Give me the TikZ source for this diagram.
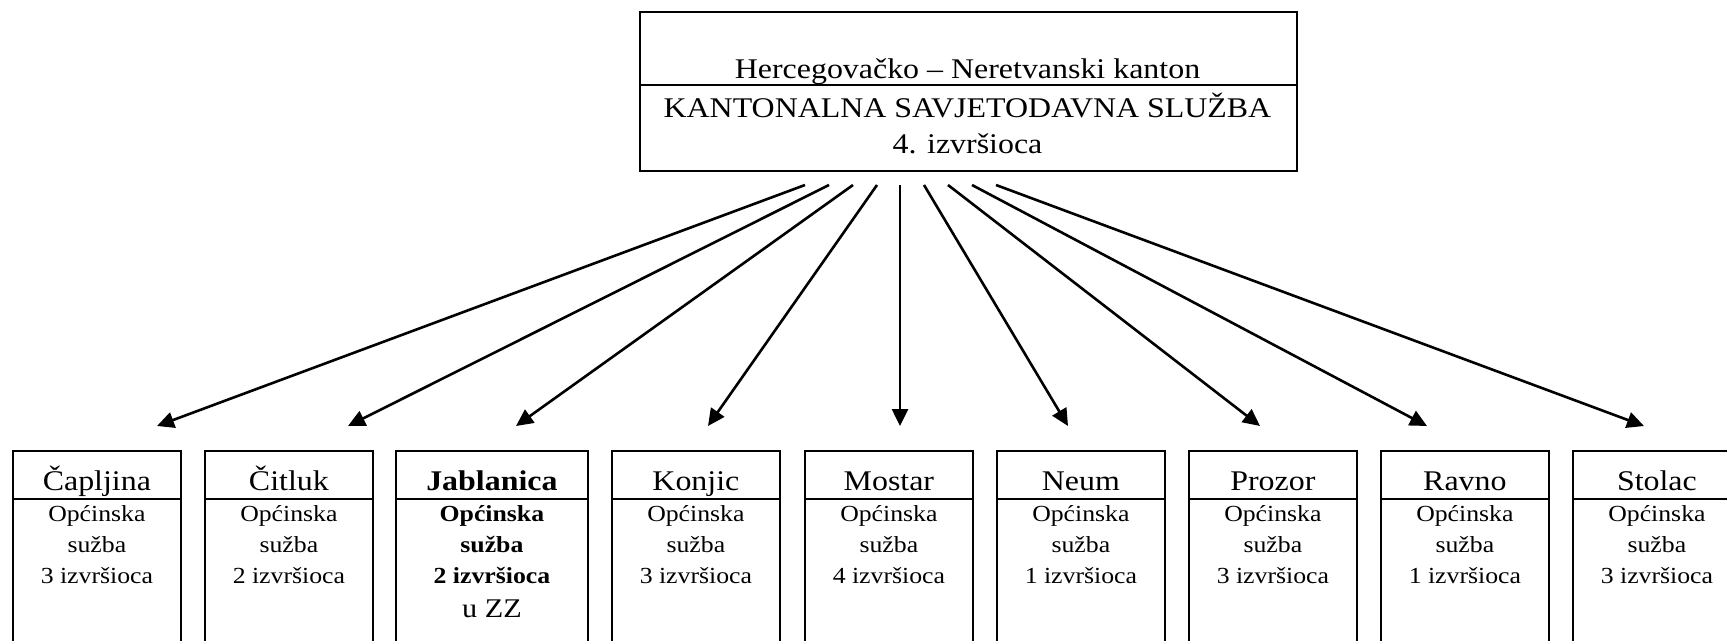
\documentclass[tikz,border=0pt]{standalone}
\usepackage{fontspec}
\setmainfont[FakeStretch=1.12]{Liberation Serif}
\usetikzlibrary{arrows.meta}
\tikzset{
  frame/.style={draw, line width=1.8pt, anchor=north west, minimum height=230, inner sep=0pt},
  regbox/.style={frame, minimum width=168},
  widebox/.style={frame, minimum width=192},
  topbox/.style={draw, line width=1.8pt, anchor=north west, minimum width=657, minimum height=159, inner sep=0pt},
  toptxt/.style={inner sep=0pt, anchor=base, font=\fontsize{28.5}{31}\selectfont},
  hdr/.style={inner sep=0pt, anchor=base, font=\fontsize{28.5}{31}\selectfont},
  body/.style={inner sep=0pt, anchor=base, align=center, font=\fontsize{23}{31}\selectfont},
  bodyb/.style={body, font=\fontsize{23}{31}\selectfont\bfseries},
  uzz/.style={inner sep=0pt, anchor=base, font=\fontsize{27}{30}\selectfont},
  arr/.style={line width=2.6pt, -{Triangle[length=17pt,width=16pt]}},
  divline/.style={line width=1.8pt}
}
\newcommand{\muni}[4]{%
  \node[#4] (#1) at (#2,450) {};
  \draw[divline] ([yshift=-49pt]#1.north west) -- ([yshift=-49pt]#1.north east);
  \node[hdr] (#1h) at ([yshift=-40pt]#1.north) {#3};
}
\begin{document}
\begin{tikzpicture}[x=1pt,y=-1pt]
\clip (0,0) rectangle (1727,640);
\fill[white] (0,0) rectangle (1727,640);
% top box
\node[topbox] (top) at (639,11) {};
\draw[divline] ([yshift=-74pt]top.north west) -- ([yshift=-74pt]top.north east);
\node[toptxt] (t1) at (967.5,78) {Hercegovačko – Neretvanski kanton};
\node[toptxt] (t2) at (967.5,117) {KANTONALNA SAVJETODAVNA SLUŽBA};
\node[toptxt] (t3) at (967.5,153) {4. izvršioca};
% municipality boxes
\muni{cap}{12}{Čapljina}{regbox}
\muni{cit}{204}{Čitluk}{regbox}
\muni{jab}{395}{\bfseries Jablanica}{widebox}
\muni{kon}{611}{Konjic}{regbox}
\muni{mos}{804}{Mostar}{regbox}
\muni{neu}{996}{Neum}{regbox}
\muni{pro}{1188}{Prozor}{regbox}
\muni{rav}{1380}{Ravno}{regbox}
\muni{sto}{1572}{Stolac}{regbox}
\node[body] (capb) at ([yshift=-133pt]cap.north) {Općinska\\sužba\\3 izvršioca};
\node[body] (citb) at ([yshift=-133pt]cit.north) {Općinska\\sužba\\2 izvršioca};
\node[bodyb] (jabb) at ([yshift=-133pt]jab.north) {Općinska\\sužba\\2 izvršioca};
\node[uzz] (jabu) at ([yshift=-167pt]jab.north) {u ZZ};
\node[body] (konb) at ([yshift=-133pt]kon.north) {Općinska\\sužba\\3 izvršioca};
\node[body] (mosb) at ([yshift=-133pt]mos.north) {Općinska\\sužba\\4 izvršioca};
\node[body] (neub) at ([yshift=-133pt]neu.north) {Općinska\\sužba\\1 izvršioca};
\node[body] (prob) at ([yshift=-133pt]pro.north) {Općinska\\sužba\\3 izvršioca};
\node[body] (ravb) at ([yshift=-133pt]rav.north) {Općinska\\sužba\\1 izvršioca};
\node[body] (stob) at ([yshift=-133pt]sto.north) {Općinska\\sužba\\3 izvršioca};
% arrow ends
\coordinate (s1) at (805,185); \coordinate (e1) at (157,426);
\coordinate (s2) at (829,185); \coordinate (e2) at (348,426);
\coordinate (s3) at (853,185); \coordinate (e3) at (516,426);
\coordinate (s4) at (877,185); \coordinate (e4) at (708,426);
\coordinate (s5) at (900,185); \coordinate (e5) at (900,426);
\coordinate (s6) at (924,185); \coordinate (e6) at (1068,426);
\coordinate (s7) at (948,185); \coordinate (e7) at (1260,426);
\coordinate (s8) at (972,185); \coordinate (e8) at (1427,426);
\coordinate (s9) at (996,185); \coordinate (e9) at (1644,426);
\foreach \i in {1,...,9} { \draw[arr] (s\i) -- (e\i); }
\end{tikzpicture}
\end{document}
